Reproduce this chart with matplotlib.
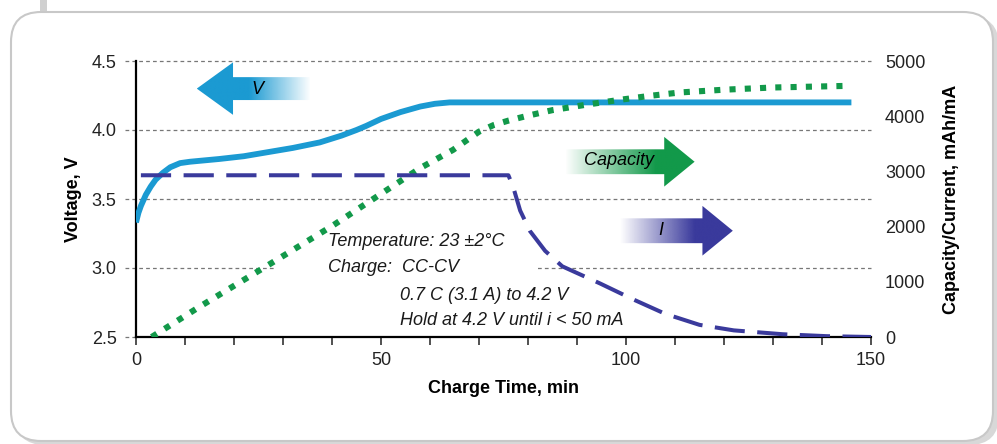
import numpy as np
import matplotlib
matplotlib.use('Agg')
import matplotlib.pyplot as plt
from matplotlib.patches import Polygon, FancyBboxPatch, Rectangle
from matplotlib.transforms import IdentityTransform

plt.rcParams['font.family'] = ['Liberation Sans', 'DejaVu Sans']

# charge voltage (V) vs time (min)
volt_t = [0, 0.5, 1, 2, 3, 4, 5.5, 7, 9, 11, 14, 17, 22, 27, 32, 37.5, 42, 45, 47, 50, 54, 58, 61, 64, 146]
volt_v = [3.33, 3.40, 3.45, 3.53, 3.59, 3.64, 3.69, 3.73, 3.76, 3.77, 3.78, 3.79, 3.81, 3.84, 3.87,
          3.91, 3.96, 4.00, 4.03, 4.08, 4.13, 4.17, 4.19, 4.20, 4.20]

# capacity (mAh) vs time
cap_t = [3.2, 13, 26, 40, 58, 64.7, 70, 73, 76, 80, 85, 92, 99, 105, 111, 120, 130, 145.5]
cap_v = [0, 550, 1250, 2010, 3060, 3390, 3720, 3840, 3920, 4010, 4110, 4210, 4300, 4370, 4430,
         4480, 4520, 4550]

# current (mA) vs time
cur_t = [1, 76, 77, 78.4, 80.4, 83.5, 87, 94.7, 101.5, 108, 115, 122, 132, 141, 150]
cur_v = [2930, 2930, 2710, 2290, 1920, 1560, 1280, 970, 680, 420, 220, 120, 50, 15, 0]

v_ticks = [2.5, 3.0, 3.5, 4.0, 4.5]
cap_ticks = [0, 1000, 2000, 3000, 4000, 5000]
x_ticks = list(range(0, 151, 10))

c_volt = '#1b9ad2'
c_cap = '#12994a'
c_cur = '#3a3a9c'
fs = 13

fig = plt.figure(figsize=(9.97, 4.44), dpi=100)
fig.patch.set_facecolor('white')

# rounded frame around the chart
fig.add_artist(Rectangle((40, 432), 7, 12, transform=IdentityTransform(),
                         facecolor='#d0d0d0', edgecolor='none', zorder=-3))
fig.add_artist(FancyBboxPatch((15, -1), 984, 429, boxstyle='round,pad=0,rounding_size=30',
                              transform=IdentityTransform(), facecolor='#d8d8d8',
                              edgecolor='none', zorder=-2))
fig.add_artist(FancyBboxPatch((11, 3), 982, 429, boxstyle='round,pad=0,rounding_size=30',
                              transform=IdentityTransform(), facecolor='white',
                              edgecolor='#c8c8c8', linewidth=1.5, zorder=-1))

ax = fig.add_axes([136 / 997, 1 - 337 / 444, 735 / 997, 276 / 444])
ax.patch.set_visible(False)
ax2 = ax.twinx()

ax.set_xlim(0, 150)
ax.set_ylim(2.5, 4.5)
ax2.set_ylim(0, 5000)

# grid lines + dashed stubs left of the spine
for v in v_ticks:
    x0 = 0 if v == 2.5 else 150
    ax.plot([-2.3, x0], [v, v], color='#777777', lw=0.9, ls=(0, (3, 2.5)),
            clip_on=False, zorder=0.5)

# white box behind the notes
ax.add_patch(Rectangle((28.4, 2.56), 53, 0.68, facecolor='white', edgecolor='none', zorder=1))


def grad_arrow(x_tail, x_tip, yc, body_h, head_h, head_len, color, x_full):
    d = 1 if x_tip > x_tail else -1
    xb = x_tip - d * head_len
    verts = [(x_tail, yc - body_h), (xb, yc - body_h), (xb, yc - head_h), (x_tip, yc),
             (xb, yc + head_h), (xb, yc + body_h), (x_tail, yc + body_h)]
    poly = Polygon(verts, closed=True, facecolor='none', edgecolor='none', zorder=2)
    ax.add_patch(poly)
    xmin, xmax = min(x_tail, x_tip), max(x_tail, x_tip)
    xs = np.linspace(xmin, xmax, 256)
    a = np.clip((xs - x_tail) / (x_full - x_tail), 0, 1)
    img = np.zeros((1, 256, 4))
    img[0, :, :3] = matplotlib.colors.to_rgb(color)
    img[0, :, 3] = a
    im = ax.imshow(img, extent=[xmin, xmax, yc - head_h, yc + head_h], aspect='auto',
                   interpolation='bilinear', zorder=2)
    im.set_clip_path(poly)


grad_arrow(35.5, 12.4, 4.30, 0.083, 0.19, 7.4, c_volt, 23)
grad_arrow(87.5, 114.0, 3.77, 0.09, 0.18, 6.2, c_cap, 106)
grad_arrow(98.8, 121.8, 3.27, 0.09, 0.18, 6.2, c_cur, 114)

ax.text(24.7, 4.29, 'V', style='italic', fontsize=fs, ha='center', va='center', zorder=4)
ax.text(98.5, 3.78, 'Capacity', style='italic', fontsize=fs, ha='center', va='center', zorder=4)
ax.text(107, 3.27, 'I', style='italic', fontsize=fs, ha='center', va='center', zorder=4)

ax.plot(volt_t, volt_v, color=c_volt, lw=4.2, solid_capstyle='butt', zorder=3)
ax2.plot(cap_t, cap_v, color=c_cap, lw=4.4, ls=(0, (1, 1.5)), dash_capstyle='butt', zorder=3)
ax2.plot(cur_t, cur_v, color=c_cur, lw=2.9, ls=(0, (7.5, 3.1)), zorder=3)

notes = [(39.2, 3.19, 'Temperature: 23 ±2°C'),
         (39.2, 3.00, 'Charge:  CC-CV'),
         (53.9, 2.80, '0.7 C (3.1 A) to 4.2 V'),
         (53.9, 2.62, 'Hold at 4.2 V until i < 50 mA')]
for x, y, s in notes:
    ax.text(x, y, s, style='italic', fontsize=fs, ha='left', va='center', color='#1a1a1a',
            zorder=4)

# axes styling
for sp in ['top', 'right']:
    ax.spines[sp].set_visible(False)
for sp in ax2.spines.values():
    sp.set_visible(False)
ax.spines['left'].set_linewidth(1.6)
ax.spines['bottom'].set_linewidth(1.6)

ax.set_xticks(x_ticks)
ax.set_xticklabels([str(t) if t % 50 == 0 else '' for t in x_ticks], fontsize=fs)
ax.tick_params(axis='x', direction='out', length=6, width=1.1, pad=5, colors='#222222')
ax.set_yticks(v_ticks)
ax.set_yticklabels(['%.1f' % v for v in v_ticks], fontsize=fs)
ax.tick_params(axis='y', length=0, pad=14, colors='#222222')
ax2.set_yticks(cap_ticks)
ax2.set_yticklabels([str(c) for c in cap_ticks], fontsize=fs)
ax2.tick_params(axis='y', length=0, pad=10, colors='#222222')

ax.set_xlabel('Charge Time, min', fontsize=fs, fontweight='bold', labelpad=8)
ax.set_ylabel('Voltage, V', fontsize=fs, fontweight='bold', labelpad=7)
ax2.set_ylabel('Capacity/Current, mAh/mA', fontsize=fs, fontweight='bold', labelpad=13)

ax.set_xlim(0, 150)
ax.set_ylim(2.5, 4.5)

fig.savefig('out.png', dpi=100)
